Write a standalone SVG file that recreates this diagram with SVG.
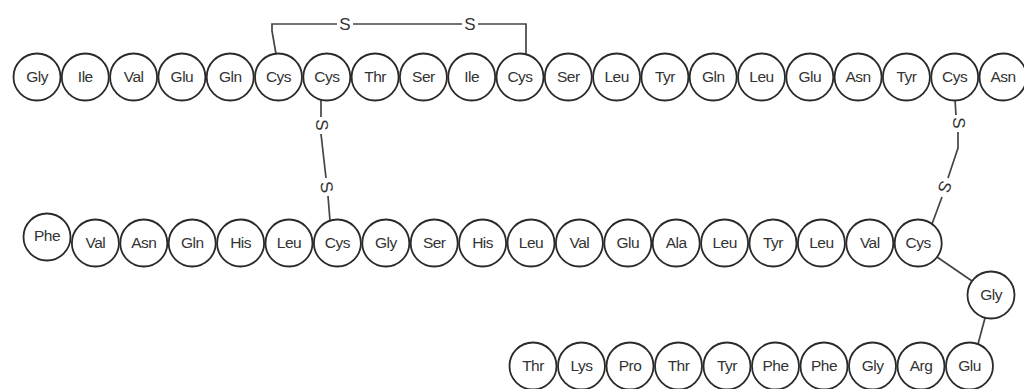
<svg xmlns="http://www.w3.org/2000/svg" width="1024" height="389" viewBox="0 0 1024 389">
<style>
.n circle{fill:#fff;stroke:#2a2a2a;stroke-width:1.8}
.n text{font-family:"Liberation Sans",Arial,sans-serif;font-size:15.5px;fill:#333;text-anchor:middle;letter-spacing:-0.5px}
.c line,.c polyline{stroke:#444;stroke-width:1.7;fill:none}
.s{font-family:"Liberation Sans",Arial,sans-serif;font-size:17px;fill:#333;text-anchor:middle}
</style>
<rect width="1024" height="389" fill="#fff"/>
<g id="connectors" class="c">
<polyline points="276,54 272,31 272,24 337,24"/>
<line x1="353" y1="24" x2="462" y2="24"/>
<polyline points="478,24 526,24 526,55"/>
<line x1="321" y1="100" x2="321" y2="117"/>
<line x1="321" y1="134" x2="326" y2="178"/>
<line x1="328" y1="196" x2="330" y2="221"/>
<line x1="955" y1="100" x2="956" y2="115"/>
<polyline points="958,132 958,148 948,178"/>
<line x1="942" y1="197" x2="932" y2="224"/>
<line x1="937" y1="257" x2="972" y2="281"/>
<line x1="985" y1="318" x2="978" y2="344"/>
</g>
<g id="sulfur-labels">
<text class="s" x="345" y="30">S</text>
<text class="s" x="470" y="30">S</text>
<text class="s" transform="translate(322,125) rotate(90)" y="6">S</text>
<text class="s" transform="translate(327,187) rotate(80)" y="6">S</text>
<text class="s" transform="translate(959,123) rotate(90)" y="6">S</text>
<text class="s" transform="translate(945,187) rotate(110)" y="6">S</text>
</g>
<g id="n1-1" class="n" transform="translate(37,77)"><circle r="23.5"/><text y="5">Gly</text></g>
<g id="n1-2" class="n" transform="translate(85.3,77)"><circle r="23.5"/><text y="5">Ile</text></g>
<g id="n1-3" class="n" transform="translate(133.6,77)"><circle r="23.5"/><text y="5">Val</text></g>
<g id="n1-4" class="n" transform="translate(181.9,77)"><circle r="23.5"/><text y="5">Glu</text></g>
<g id="n1-5" class="n" transform="translate(230.2,77)"><circle r="23.5"/><text y="5">Gln</text></g>
<g id="n1-6" class="n" transform="translate(278.5,77)"><circle r="23.5"/><text y="5">Cys</text></g>
<g id="n1-7" class="n" transform="translate(326.8,77)"><circle r="23.5"/><text y="5">Cys</text></g>
<g id="n1-8" class="n" transform="translate(375.1,77)"><circle r="23.5"/><text y="5">Thr</text></g>
<g id="n1-9" class="n" transform="translate(423.4,77)"><circle r="23.5"/><text y="5">Ser</text></g>
<g id="n1-10" class="n" transform="translate(471.7,77)"><circle r="23.5"/><text y="5">Ile</text></g>
<g id="n1-11" class="n" transform="translate(520,77)"><circle r="23.5"/><text y="5">Cys</text></g>
<g id="n1-12" class="n" transform="translate(568.3,77)"><circle r="23.5"/><text y="5">Ser</text></g>
<g id="n1-13" class="n" transform="translate(616.6,77)"><circle r="23.5"/><text y="5">Leu</text></g>
<g id="n1-14" class="n" transform="translate(664.9,77)"><circle r="23.5"/><text y="5">Tyr</text></g>
<g id="n1-15" class="n" transform="translate(713.2,77)"><circle r="23.5"/><text y="5">Gln</text></g>
<g id="n1-16" class="n" transform="translate(761.5,77)"><circle r="23.5"/><text y="5">Leu</text></g>
<g id="n1-17" class="n" transform="translate(809.8,77)"><circle r="23.5"/><text y="5">Glu</text></g>
<g id="n1-18" class="n" transform="translate(858.1,77)"><circle r="23.5"/><text y="5">Asn</text></g>
<g id="n1-19" class="n" transform="translate(906.4,77)"><circle r="23.5"/><text y="5">Tyr</text></g>
<g id="n1-20" class="n" transform="translate(954.7,77)"><circle r="23.5"/><text y="5">Cys</text></g>
<g id="n1-21" class="n" transform="translate(1003,77)"><circle r="23.5"/><text y="5">Asn</text></g>
<g id="n2-1" class="n" transform="translate(47,237)"><circle r="23.5"/><text y="4">Phe</text></g>
<g id="n2-2" class="n" transform="translate(95.4,243)"><circle r="23.5"/><text y="5">Val</text></g>
<g id="n2-3" class="n" transform="translate(143.8,243)"><circle r="23.5"/><text y="5">Asn</text></g>
<g id="n2-4" class="n" transform="translate(192.2,243)"><circle r="23.5"/><text y="5">Gln</text></g>
<g id="n2-5" class="n" transform="translate(240.6,243)"><circle r="23.5"/><text y="5">His</text></g>
<g id="n2-6" class="n" transform="translate(289,243)"><circle r="23.5"/><text y="5">Leu</text></g>
<g id="n2-7" class="n" transform="translate(337.4,243)"><circle r="23.5"/><text y="5">Cys</text></g>
<g id="n2-8" class="n" transform="translate(385.8,243)"><circle r="23.5"/><text y="5">Gly</text></g>
<g id="n2-9" class="n" transform="translate(434.2,243)"><circle r="23.5"/><text y="5">Ser</text></g>
<g id="n2-10" class="n" transform="translate(482.6,243)"><circle r="23.5"/><text y="5">His</text></g>
<g id="n2-11" class="n" transform="translate(531,243)"><circle r="23.5"/><text y="5">Leu</text></g>
<g id="n2-12" class="n" transform="translate(579.4,243)"><circle r="23.5"/><text y="5">Val</text></g>
<g id="n2-13" class="n" transform="translate(627.8,243)"><circle r="23.5"/><text y="5">Glu</text></g>
<g id="n2-14" class="n" transform="translate(676.2,243)"><circle r="23.5"/><text y="5">Ala</text></g>
<g id="n2-15" class="n" transform="translate(724.6,243)"><circle r="23.5"/><text y="5">Leu</text></g>
<g id="n2-16" class="n" transform="translate(773,243)"><circle r="23.5"/><text y="5">Tyr</text></g>
<g id="n2-17" class="n" transform="translate(821.4,243)"><circle r="23.5"/><text y="5">Leu</text></g>
<g id="n2-18" class="n" transform="translate(869.8,243)"><circle r="23.5"/><text y="5">Val</text></g>
<g id="n2-19" class="n" transform="translate(918.2,243)"><circle r="23.5"/><text y="5">Cys</text></g>
<g id="n2-20" class="n" transform="translate(991,295)"><circle r="23.5"/><text y="5">Gly</text></g>
<g id="n3-1" class="n" transform="translate(533,366)"><circle r="23.5"/><text y="5">Thr</text></g>
<g id="n3-2" class="n" transform="translate(581.5,366)"><circle r="23.5"/><text y="5">Lys</text></g>
<g id="n3-3" class="n" transform="translate(630,366)"><circle r="23.5"/><text y="5">Pro</text></g>
<g id="n3-4" class="n" transform="translate(678.5,366)"><circle r="23.5"/><text y="5">Thr</text></g>
<g id="n3-5" class="n" transform="translate(727,366)"><circle r="23.5"/><text y="5">Tyr</text></g>
<g id="n3-6" class="n" transform="translate(775.5,366)"><circle r="23.5"/><text y="5">Phe</text></g>
<g id="n3-7" class="n" transform="translate(824,366)"><circle r="23.5"/><text y="5">Phe</text></g>
<g id="n3-8" class="n" transform="translate(872.5,366)"><circle r="23.5"/><text y="5">Gly</text></g>
<g id="n3-9" class="n" transform="translate(921,366)"><circle r="23.5"/><text y="5">Arg</text></g>
<g id="n3-10" class="n" transform="translate(969.5,366)"><circle r="23.5"/><text y="5">Glu</text></g>
</svg>
